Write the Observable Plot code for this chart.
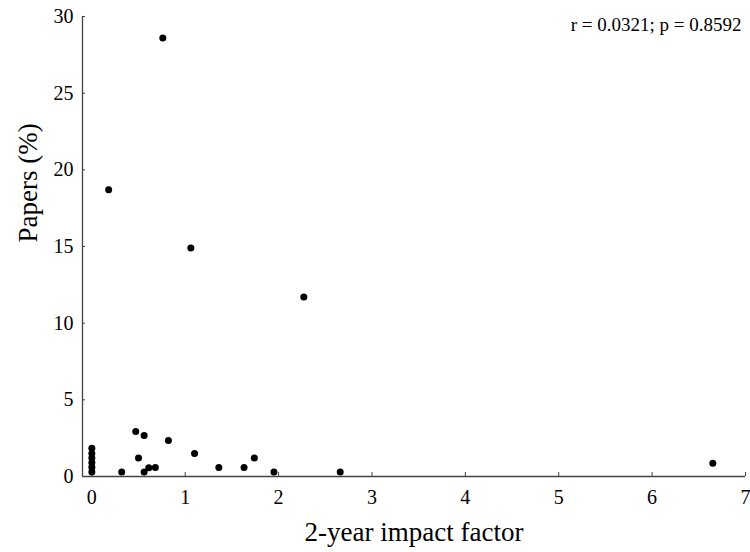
<!DOCTYPE html>
<html>
<head>
<meta charset="utf-8">
<script src="https://cdn.jsdelivr.net/npm/d3@7"></script>
<script src="https://cdn.jsdelivr.net/npm/@observablehq/plot@0.6"></script>
<style>
  html, body { margin: 0; padding: 0; background: #fff; }
  #chart svg { display: block; }
  #chart svg text { font-family: "Liberation Serif", "Times New Roman", serif !important; font-variant: normal !important; }
</style>
</head>
<body>
<div id="chart"></div>
<script>
// Data
const impactFactor = [0, 0, 0, 0, 0, 0, 0.32, 0.47, 0.56, 0.50, 0.56, 0.61, 0.68, 0.82, 1.10, 1.36, 1.63, 1.74, 1.95, 2.66, 6.65, 0.76, 0.18, 1.06, 2.27];
const papersPct    = [0.3, 0.6, 0.9, 1.2, 1.5, 1.85, 0.3, 2.93, 2.67, 1.2, 0.3, 0.57, 0.59, 2.35, 1.5, 0.59, 0.59, 1.2, 0.3, 0.3, 0.87, 28.6, 18.7, 14.9, 11.7];
const xTicks = [0, 1, 2, 3, 4, 5, 6, 7];
const yTicks = [0, 5, 10, 15, 20, 25, 30];
const xLabel = "2-year impact factor";
const yLabel = "Papers (%)";
const statText = "r = 0.0321; p = 0.8592";

const points = impactFactor.map((x, i) => ({x, y: papersPct[i]}));
const font = "Liberation Serif, Times New Roman, serif";
const axisColor = "#444";

const chart = Plot.plot({
  width: 750,
  height: 552,
  marginLeft: 82,
  marginRight: 5,
  marginTop: 16,
  marginBottom: 76,
  style: {fontFamily: font, color: "#000", background: "#fff"},
  x: {domain: [-0.1, 7]},
  y: {domain: [0, 30]},
  marks: [
    // axis lines
    Plot.ruleY([0], {x1: -0.1, x2: 7, stroke: axisColor, strokeWidth: 1.3}),
    Plot.ruleX([-0.1], {y1: 0, y2: 30, stroke: axisColor, strokeWidth: 1.3}),
    // inward tick marks
    Plot.ruleX(xTicks, {x: d => d, y1: 0, y2: 0, insetTop: -4, stroke: axisColor}),
    Plot.ruleY(yTicks, {y: d => d, x1: -0.1, x2: -0.1, insetRight: -3, stroke: axisColor}),
    // tick labels
    Plot.axisX({ticks: xTicks, tickSize: 0, tickPadding: 13, fontSize: 20, fontFamily: font, fill: "#000", label: null}),
    Plot.axisY({ticks: yTicks, tickSize: 0, tickPadding: 9, fontSize: 20, fontFamily: font, fill: "#000", label: null}),
    // data
    Plot.dot(points, {x: "x", y: "y", r: 3.5, fill: "#000", stroke: "none"}),
    // axis titles
    Plot.text([xLabel], {frameAnchor: "bottom", dy: 56, fontSize: 27, fontFamily: font, lineAnchor: "middle", fill: "#000"}),
    Plot.text([yLabel], {frameAnchor: "left", dx: -54, dy: -4, rotate: -90, fontSize: 27, fontFamily: font, lineAnchor: "middle", fill: "#000"}),
    // statistics annotation
    Plot.text([statText], {frameAnchor: "top-right", textAnchor: "end", dx: -4, dy: 8, fontSize: 19, fontFamily: font, lineAnchor: "middle", fill: "#000"})
  ]
});
document.getElementById("chart").appendChild(chart);
</script>
</body>
</html>
